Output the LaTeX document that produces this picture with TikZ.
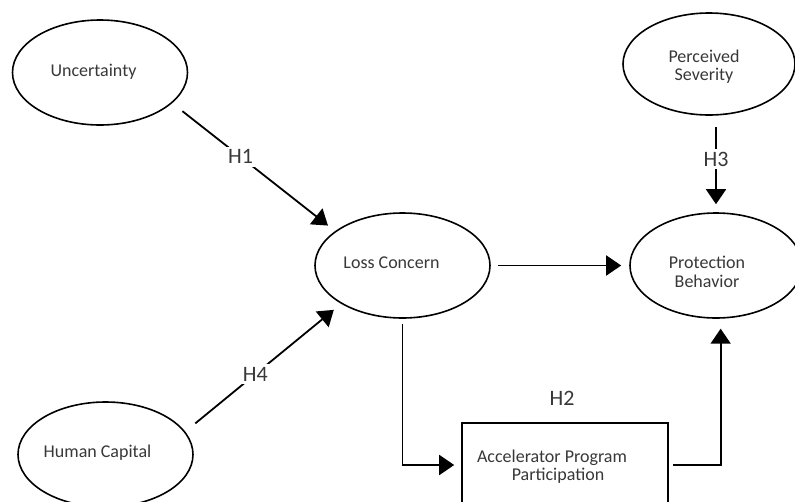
\documentclass[tikz,border=0pt]{standalone}
\usepackage{fontspec}
\setmainfont{Carlito}
\usetikzlibrary{arrows.meta,shapes.geometric,calc}
\begin{document}
\begin{tikzpicture}[x=1pt,y=-1pt,
  oval/.style={draw,ellipse,line width=1.6pt,minimum width=175pt,minimum height=105pt,inner sep=0pt},
  box/.style={draw,rectangle,line width=1.6pt,minimum width=206pt,minimum height=84pt,inner sep=0pt},
  txt/.style={text=black!78,font=\fontsize{18}{18.5}\selectfont,align=center,inner sep=0pt},
  hyp/.style={fill=white,text=black!78,font=\fontsize{22}{24}\selectfont,inner sep=3pt},
  conn/.style={line width=1.8pt,-{Triangle[length=15pt,width=20pt]}}]
\useasboundingbox (0,0) rectangle (795,501);
\clip (0,0) rectangle (795,501);
\fill[white] (0,0) rectangle (795,501);
% shapes
\node[oval] (U) at (100,72.5) {};
\node[oval] (LC) at (402.5,265.5) {};
\node[oval,minimum width=172pt,minimum height=102pt] (PS) at (709,64) {};
\node[oval,minimum width=172pt] (PB) at (716,265.5) {};
\node[oval] (HC) at (105.5,454.5) {};
\node[box] (R) at (565,465) {};
% texts
\node[txt] (tU) at (93.5,72) {Uncertainty};
\node[txt] (tLC) at (391.5,263) {Loss Concern};
\node[txt] (tPS) at (704,66.5) {Perceived\\Severity};
\node[txt] (tPB) at (707,272) {Protection\\Behavior};
\node[txt] (tHC) at (97.5,453) {Human Capital};
\node[txt] (tR) at (552,466.5) {Accelerator Program\\\hspace*{12pt}Participation};
\node[text=black!78,font=\fontsize{22}{24}\selectfont,inner sep=0pt] (h2) at (562,398) {H2};
% connectors
\draw[conn,shorten <=13pt,shorten >=9pt] (U.-23) -- node[hyp,pos=0.42] (h1) {H1} (LC.153);
\draw[conn,shorten <=13pt,shorten >=9.5pt] (HC.16) -- node[hyp,pos=0.45] (h4) {H4} (LC.-148.6);
\draw[conn,shorten <=7pt,shorten >=8pt] (LC.east) -- (PB.west);
\draw[conn,shorten <=11pt,shorten >=8pt] (PB.north |- PS.south) -- node[hyp,pos=0.45] (h3) {H3} (PB.north);
\draw[conn,shorten <=5pt,shorten >=7pt] (LC.south) |- (R.west);
\draw[conn,shorten <=4pt,shorten >=10pt] (R.east) -| (PB.-85);
\end{tikzpicture}
\end{document}
